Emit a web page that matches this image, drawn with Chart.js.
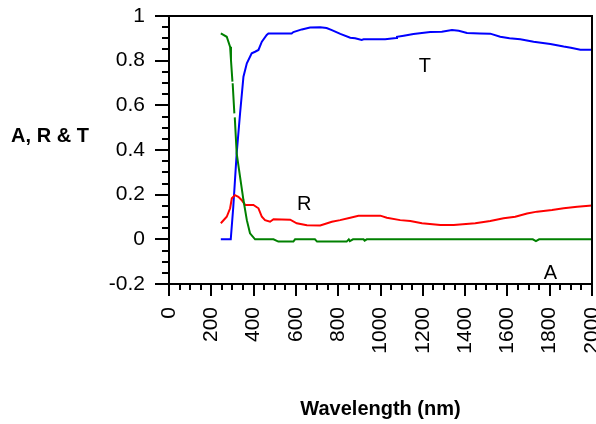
<!DOCTYPE html>
<html>
<head>
<meta charset="utf-8">
<script src="https://cdn.jsdelivr.net/npm/chart.js@4.4.1/dist/chart.umd.min.js"></script>
<style>
  html, body { margin: 0; padding: 0; background: #fff; }
  canvas { display: block; }
</style>
</head>
<body>
<canvas id="chart" width="596" height="424"></canvas>
<script>
// Transmittance (T)
const tWavelength = [245, 292, 304, 320, 336, 352, 368, 391, 407, 423, 439, 462, 470, 580, 588, 628, 667, 715, 745, 770, 810, 857, 880, 911, 920, 1022, 1074, 1078, 1110, 1156, 1235, 1290, 1338, 1370, 1409, 1470, 1519, 1566, 1610, 1661, 1724, 1803, 1866, 1900, 1945, 2000];
const tValues = [0, 0, 0.146, 0.385, 0.564, 0.728, 0.788, 0.833, 0.84, 0.848, 0.885, 0.915, 0.922, 0.922, 0.928, 0.94, 0.948, 0.95, 0.946, 0.937, 0.92, 0.903, 0.9, 0.893, 0.896, 0.896, 0.902, 0.907, 0.912, 0.919, 0.928, 0.93, 0.937, 0.934, 0.924, 0.922, 0.921, 0.907, 0.9, 0.896, 0.885, 0.875, 0.863, 0.858, 0.849, 0.849];

// Reflectance (R)
const rWavelength = [245, 273, 289, 297, 312, 328, 343, 360, 399, 423, 439, 454, 478, 494, 573, 604, 652, 715, 770, 809, 857, 896, 999, 1030, 1093, 1141, 1196, 1283, 1346, 1448, 1519, 1582, 1637, 1693, 1740, 1811, 1866, 1930, 2000];
const rValues = [0.072, 0.101, 0.139, 0.184, 0.198, 0.19, 0.176, 0.154, 0.154, 0.139, 0.101, 0.086, 0.079, 0.09, 0.088, 0.072, 0.063, 0.062, 0.079, 0.086, 0.097, 0.106, 0.106, 0.097, 0.086, 0.082, 0.072, 0.064, 0.064, 0.072, 0.082, 0.094, 0.101, 0.116, 0.124, 0.131, 0.139, 0.146, 0.152];

// Absorbance (A); null marks a break in the recorded trace
const aWavelength = [245, 273, 289, 293, 300, 300.5, 301, 309, 310, 311, 320, 336, 352, 368, 383, 407, 494, 517, 588, 596, 690, 700, 840, 850, 855, 870, 920, 925, 935, 1720, 1735, 1750, 2000];
const aValues = [0.922, 0.907, 0.862, 0.803, 0.706, null, 0.699, 0.564, null, 0.546, 0.385, 0.28, 0.176, 0.086, 0.027, 0, 0, -0.01, -0.01, 0, 0, -0.01, -0.01, 0, -0.008, 0, 0, -0.006, 0, 0, -0.008, 0, 0];

const xTickValues = [0, 200, 400, 600, 800, 1000, 1200, 1400, 1600, 1800, 2000];
const yTickValues = [-0.2, 0, 0.2, 0.4, 0.6, 0.8, 1];

const FONT = '"Liberation Sans", Arial, Helvetica, sans-serif';

function toPoints(xs, ys) {
    return xs.map((x, i) => ({ x, y: ys[i] }));
}

// box round the plot, outward major/minor ticks, side title and curve letters
const frameAndTicks = {
    id: 'frameAndTicks',
    afterDraw(chart) {
        const { ctx, chartArea: a, scales: { x, y } } = chart;
        ctx.save();
        ctx.strokeStyle = '#000';
        ctx.lineWidth = 2;
        ctx.strokeRect(a.left, a.top, a.right - a.left, a.bottom - a.top);

        ctx.beginPath();
        for (let i = 0; i <= 24; i++) {
            const py = Math.round(y.getPixelForValue(-0.2 + i * 0.05));
            ctx.moveTo(a.left, py);
            ctx.lineTo(a.left - (i % 4 === 0 ? 14 : 7), py);
        }
        for (let i = 0; i <= 40; i++) {
            const px = Math.round(x.getPixelForValue(i * 50));
            ctx.moveTo(px, a.bottom);
            ctx.lineTo(px, a.bottom + (i % 4 === 0 ? 12 : 6));
        }
        ctx.stroke();

        ctx.fillStyle = '#000';
        ctx.textAlign = 'center';
        ctx.textBaseline = 'middle';
        ctx.font = 'bold 20px ' + FONT;
        ctx.fillText('A, R & T', 50, 136);

        ctx.font = '20px ' + FONT;
        const letters = [['T', 1210, 0.772], ['R', 639, 0.154], ['A', 1803, -0.151]];
        letters.forEach(([txt, wx, wy]) => {
            ctx.fillText(txt, x.getPixelForValue(wx), y.getPixelForValue(wy));
        });
        ctx.restore();
    },
};

const lineStyle = { borderWidth: 2, pointRadius: 0, tension: 0, fill: false, spanGaps: false };

new Chart(document.getElementById('chart'), {
    type: 'line',
    data: {
        datasets: [
            { label: 'A', data: toPoints(aWavelength, aValues), borderColor: '#008000', ...lineStyle },
            { label: 'R', data: toPoints(rWavelength, rValues), borderColor: '#ff0000', ...lineStyle },
            { label: 'T', data: toPoints(tWavelength, tValues), borderColor: '#0000ff', ...lineStyle },
        ],
    },
    options: {
        responsive: false,
        animation: false,
        layout: { padding: { top: 16, right: 4, left: 0, bottom: 0 } },
        plugins: {
            legend: { display: false },
            tooltip: { enabled: false },
        },
        scales: {
            x: {
                type: 'linear',
                min: 0,
                max: 2000,
                grid: { display: false, drawTicks: false },
                border: { display: false },
                afterBuildTicks(scale) {
                    scale.ticks = xTickValues.map(v => ({ value: v }));
                },
                ticks: {
                    minRotation: 90,
                    maxRotation: 90,
                    autoSkip: false,
                    padding: 23,
                    color: '#000',
                    font: { family: FONT, size: 21 },
                    callback: v => String(v),
                },
                title: {
                    display: true,
                    text: 'Wavelength (nm)',
                    color: '#000',
                    font: { family: FONT, size: 20, weight: 'bold' },
                    padding: { top: 0, bottom: 3 },
                },
                afterFit(scale) {
                    scale.height = 140;
                    scale.paddingLeft = 0;
                    scale.paddingRight = 0;
                },
            },
            y: {
                min: -0.2,
                max: 1,
                grid: { display: false, drawTicks: false },
                border: { display: false },
                afterBuildTicks(scale) {
                    scale.ticks = yTickValues.map(v => ({ value: v }));
                },
                ticks: {
                    autoSkip: false,
                    padding: 24,
                    color: '#000',
                    font: { family: FONT, size: 21 },
                    callback: v => String(Number(v.toFixed(1))),
                },
                afterFit(scale) {
                    scale.width = 169;
                    scale.paddingTop = 0;
                    scale.paddingBottom = 0;
                },
            },
        },
    },
    plugins: [frameAndTicks],
});
</script>
</body>
</html>
